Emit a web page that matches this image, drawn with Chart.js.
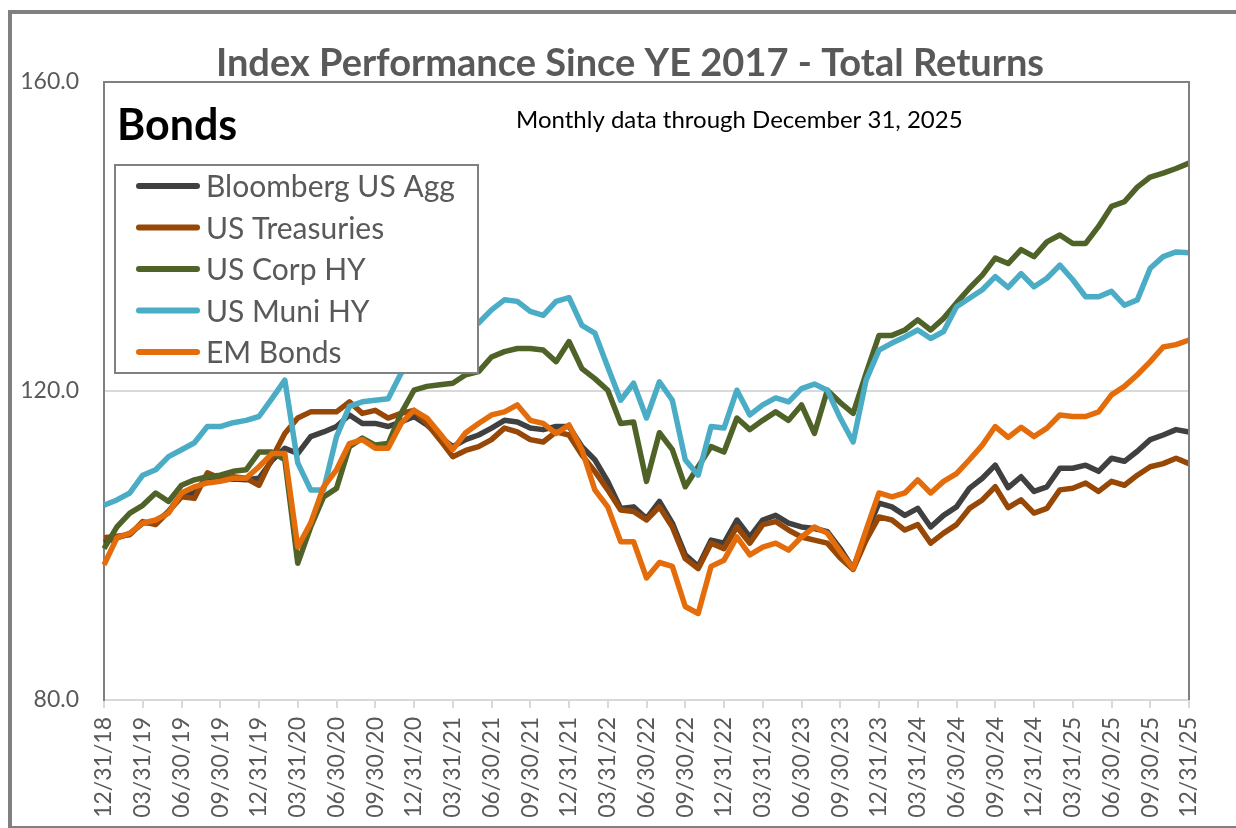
<!DOCTYPE html>
<html>
<head>
<meta charset="utf-8">
<title>Index Performance Since YE 2017 - Total Returns</title>
<script src="https://cdn.jsdelivr.net/npm/chart.js@4.4.1/dist/chart.umd.min.js"></script>
<style>
  html, body { margin: 0; padding: 0; background: #fff; }
  #wrap { position: relative; width: 1236px; height: 828px; overflow: hidden; }
  #frame { position: absolute; left: 8px; top: 10px; width: 1240px; height: 812px;
           border-left: 4px solid #808080; border-top: 4px solid #808080; border-bottom: 4px solid #808080; }
  canvas { position: absolute; left: 0; top: 0; }
</style>
</head>
<body>
<div id="wrap">
  <div id="frame"></div>
  <canvas id="bondsChart" width="1236" height="828"></canvas>
</div>
<script>
// ----- data (month ends 12/31/18 .. 12/31/25) -----

var seriesNames = ["Bloomberg US Agg", "US Treasuries", "US Corp HY", "US Muni HY", "EM Bonds"];
var seriesColors = ["#404040", "#974806", "#4F6228", "#4BACC6", "#E46C0A"];

var usAgg = [
  100.4, 101.0, 101.5, 102.9, 103.0, 104.4, 106.6, 106.8, 108.9, 108.5, 108.6, 108.5,
  108.7, 111.0, 112.6, 111.9, 114.1, 114.7, 115.4, 116.9, 115.8, 115.8, 115.4, 116.0,
  116.7, 115.6, 114.1, 112.8, 113.7, 114.3, 115.2, 116.2, 116.0, 115.2, 115.0, 115.4,
  115.4, 112.8, 111.1, 108.3, 104.8, 105.0, 103.5, 105.7, 102.9, 98.8, 97.3, 100.7,
  100.3, 103.3, 101.1, 103.3, 103.9, 102.9, 102.4, 102.2, 101.8, 99.6, 97.0, 101.6,
  105.5, 105.0, 103.9, 104.8, 102.4, 103.9, 105.0, 107.4, 108.7, 110.4, 107.5, 108.9,
  107.0, 107.6, 110.0, 110.0, 110.4, 109.6, 111.3, 110.9, 112.2, 113.7, 114.3, 115.0,
  114.7
];

var usTreasuries = [
  101.0, 101.2, 101.4, 103.1, 102.7, 104.4, 106.3, 106.1, 109.4, 108.7, 108.9, 108.7,
  107.8, 111.3, 114.5, 116.5, 117.3, 117.3, 117.3, 118.6, 117.1, 117.5, 116.5, 117.1,
  117.5, 115.8, 113.7, 111.5, 112.3, 112.8, 113.7, 115.2, 114.7, 113.7, 113.4, 114.7,
  114.3, 111.7, 109.6, 107.2, 104.6, 104.4, 103.3, 105.0, 102.4, 98.3, 97.0, 100.3,
  99.6, 102.4, 100.3, 102.7, 103.1, 102.0, 101.1, 100.7, 100.3, 98.4, 96.9, 100.7,
  103.7, 103.3, 102.0, 102.7, 100.3, 101.6, 102.7, 104.8, 105.9, 107.6, 104.9, 105.9,
  104.2, 104.8, 107.2, 107.4, 108.1, 107.0, 108.3, 107.8, 109.1, 110.2, 110.6, 111.3,
  110.6
];

var usCorpHY = [
  99.6, 102.4, 104.2, 105.2, 106.8, 105.7, 107.8, 108.5, 108.9, 109.1, 109.6, 109.8,
  112.1, 112.1, 111.1, 97.7, 102.4, 106.3, 107.4, 112.8, 113.9, 113.0, 113.2, 117.1,
  120.1, 120.6, 120.8, 121.0, 122.1, 122.5, 124.4, 125.1, 125.5, 125.5, 125.3, 123.8,
  126.4, 122.9, 121.6, 120.1, 115.8, 116.0, 108.3, 114.6, 112.4, 107.6, 110.2, 112.8,
  112.1, 116.5, 115.0, 116.2, 117.3, 116.2, 118.2, 114.5, 120.1, 118.5, 117.1, 122.3,
  127.2, 127.2, 127.9, 129.2, 127.9, 129.4, 131.4, 133.3, 135.0, 137.2, 136.5, 138.3,
  137.4, 139.3, 140.2, 139.1, 139.1, 141.3, 143.9, 144.5, 146.4, 147.7, 148.2, 148.8,
  149.5
];

var usMuniHY = [
  105.2, 105.9, 106.8, 109.1, 109.8, 111.5, 112.4, 113.3, 115.4, 115.4, 115.9, 116.2,
  116.7, 119.0, 121.4, 110.7, 107.2, 107.2, 114.1, 118.0, 118.6, 118.8, 119.0, 122.3,
  123.8, 124.4, 126.0, 126.6, 127.9, 128.8, 130.5, 131.8, 131.6, 130.3, 129.8, 131.6,
  132.1, 128.5, 127.5, 123.1, 118.8, 121.0, 116.5, 121.2, 118.8, 111.1, 109.1, 115.4,
  115.2, 120.1, 116.9, 118.2, 119.1, 118.6, 120.3, 120.9, 120.1, 116.5, 113.4, 121.4,
  125.3, 126.2, 127.0, 127.9, 126.8, 127.7, 130.9, 132.0, 133.1, 134.8, 133.4, 135.2,
  133.5, 134.6, 136.3, 134.4, 132.2, 132.2, 132.9, 131.1, 131.8, 135.9, 137.4, 138.0,
  137.9
];

var emBonds = [
  97.5, 101.0, 101.6, 102.9, 103.3, 104.2, 106.8, 107.6, 108.1, 108.3, 108.7, 108.7,
  110.2, 111.9, 111.9, 99.8, 102.9, 107.6, 109.8, 113.2, 113.7, 112.6, 112.6, 115.8,
  117.5, 116.5, 114.5, 112.4, 114.6, 115.8, 116.9, 117.3, 118.2, 116.2, 115.8, 114.5,
  115.6, 112.4, 107.2, 105.0, 100.5, 100.5, 95.8, 97.8, 97.3, 92.1, 91.2, 97.3,
  98.1, 101.1, 98.8, 99.8, 100.3, 99.4, 101.1, 102.4, 101.6, 99.2, 97.0, 102.0,
  106.8, 106.3, 106.8, 108.5, 106.8, 108.3, 109.3, 111.1, 113.0, 115.4, 114.0, 115.3,
  114.1, 115.2, 116.9, 116.7, 116.7, 117.3, 119.5, 120.6, 122.1, 123.8, 125.7, 126.0,
  126.6
];

var yTicks = [80, 120, 160];

// month-end category labels, MM/DD/YY
function monthEnds(startYear, startMonth, count) {
  var out = [];
  for (var k = 0; k < count; k++) {
    var m = (startMonth - 1 + k) % 12;
    var y = startYear + Math.floor((startMonth - 1 + k) / 12);
    var last = new Date(y, m + 1, 0).getDate();
    out.push(String(m + 1).padStart(2, "0") + "/" + String(last).padStart(2, "0") + "/" + String(y % 100).padStart(2, "0"));
  }
  return out;
}
var months = monthEnds(2018, 12, usAgg.length);

var allSeries = [usAgg, usTreasuries, usCorpHY, usMuniHY, emBonds];
var FONT = "Lato, 'Open Sans', sans-serif";

// ----- text, legend and plot border drawn on top of the chart -----
var decorations = {
  id: "decorations",
  afterDraw: function (chart) {
    var ctx = chart.ctx, a = chart.chartArea;
    ctx.save();

    // plot area border (top + right)
    ctx.strokeStyle = "#808080";
    ctx.lineWidth = 2;
    ctx.beginPath();
    ctx.moveTo(a.left, a.top);
    ctx.lineTo(a.right, a.top);
    ctx.lineTo(a.right, a.bottom);
    ctx.stroke();

    // title
    ctx.fillStyle = "#595959";
    ctx.font = "bold 38px " + FONT;
    ctx.textAlign = "center";
    ctx.textBaseline = "alphabetic";
    ctx.fillText("Index Performance Since YE 2017 - Total Returns", 630, 76);

    // "Bonds"
    ctx.fillStyle = "#000";
    ctx.textAlign = "left";
    ctx.font = "bold 43px " + FONT;
    ctx.fillText("Bonds", 117, 140);

    // subtitle
    ctx.font = "24px " + FONT;
    ctx.fillText("Monthly data through December 31, 2025", 516, 128);

    // legend box
    ctx.fillStyle = "#fff";
    ctx.fillRect(115, 165, 363, 208);
    ctx.strokeStyle = "#808080";
    ctx.lineWidth = 2;
    ctx.strokeRect(115, 165, 363, 208);

    ctx.font = "30px " + FONT;
    for (var k = 0; k < seriesNames.length; k++) {
      var cy = 186 + k * 41.5;
      ctx.strokeStyle = seriesColors[k];
      ctx.lineWidth = 6;
      ctx.lineCap = "round";
      ctx.beginPath();
      ctx.moveTo(139, cy);
      ctx.lineTo(197, cy);
      ctx.stroke();
      ctx.fillStyle = "#595959";
      ctx.fillText(seriesNames[k], 206, cy + 11);
    }
    ctx.restore();
  }
};

var datasets = allSeries.map(function (vals, k) {
  return {
    label: seriesNames[k],
    data: vals,
    borderColor: seriesColors[k],
    backgroundColor: seriesColors[k],
    borderWidth: 5.5,
    pointRadius: 0,
    tension: 0,
    borderJoinStyle: "round",
    order: seriesNames.length - k
  };
});

var ctxL = document.getElementById("bondsChart").getContext("2d");
var bondsChart = new Chart(ctxL, {
  type: "line",
  data: { labels: months, datasets: datasets },
  plugins: [decorations],
  options: {
    responsive: false,
    animation: false,
    devicePixelRatio: 1,
    layout: { padding: { top: 82, right: 47, left: 0, bottom: 0 } },
    plugins: { legend: { display: false }, title: { display: false }, tooltip: { enabled: false } },
    scales: {
      x: {
        type: "category",
        offset: false,
        afterFit: function (s) { s.height = 128; },
        border: { display: true, color: "#d9d9d9", width: 2 },
        grid: {
          drawOnChartArea: false,
          drawTicks: true,
          tickLength: 8,
          lineWidth: 2,
          color: function (c) { return c.index % 3 === 0 ? "#d9d9d9" : "rgba(0,0,0,0)"; }
        },
        ticks: {
          autoSkip: false,
          maxRotation: 90,
          minRotation: 90,
          padding: 9,
          color: "#595959",
          font: { family: FONT, size: 23 },
          callback: function (v, i) { return i % 3 === 0 ? months[i] : ""; }
        }
      },
      y: {
        min: yTicks[0],
        max: yTicks[yTicks.length - 1],
        afterFit: function (s) { s.width = 104; },
        afterBuildTicks: function (s) { s.ticks = yTicks.map(function (v) { return { value: v }; }); },
        border: { display: true, color: "#808080", width: 2 },
        grid: {
          drawTicks: false,
          lineWidth: 2,
          color: function (c) { return c.tick && c.tick.value === 120 ? "#d9d9d9" : "rgba(0,0,0,0)"; }
        },
        ticks: {
          padding: 25,
          color: "#595959",
          font: { family: FONT, size: 23 },
          callback: function (v) { return Number(v).toFixed(1); }
        }
      }
    }
  }
});
</script>
</body>
</html>
